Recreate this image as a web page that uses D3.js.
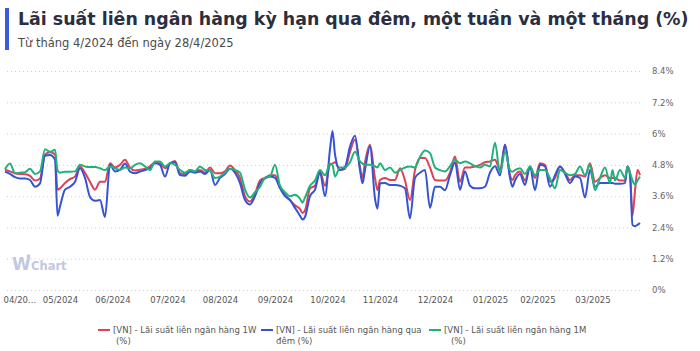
<!DOCTYPE html>
<html>
<head>
<meta charset="utf-8">
<script src="https://cdn.jsdelivr.net/npm/d3@7"></script>
<style>
  html, body { margin: 0; padding: 0; background: #fff; }
  svg { display: block; font-family: 'DejaVu Sans', sans-serif; }
</style>
</head>
<body>
<div id="chart"></div>
<script>
const svgWidth = 700;
const svgHeight = 351;

const title = 'Lãi suất liên ngân hàng kỳ hạn qua đêm, một tuần và một tháng (%)';
const subtitle = 'Từ tháng 4/2024 đến ngày 28/4/2025';

// trading-day index of each sample (0 = early 04/2024, 254 = 28/4/2025)
const days = [
  0, 2, 4, 6, 8, 10, 12, 14, 16, 18, 20, 21, 22, 24, 26, 28, 30, 32, 34, 36, 38, 40,
  42, 44, 46, 48, 50, 52, 54, 56, 58, 60, 62, 64, 66, 68, 70, 72, 74, 76, 78, 80,
  82, 84, 86, 88, 90, 92, 94, 96, 98, 100, 102, 104, 106, 108, 110, 112, 114, 116,
  118, 119, 120, 122, 124, 126, 128, 130, 131, 132, 134, 136, 138, 140, 142, 143,
  144, 146, 148, 149, 150, 152, 154, 156, 158, 160, 162, 164, 166, 168, 170, 172,
  174, 176, 178, 180, 182, 184, 186, 188, 190, 192, 194, 196, 198, 200, 202, 203,
  204, 206, 208, 210, 212, 214, 216, 218, 220, 222, 224, 226, 228, 230, 232, 234,
  236, 238, 240, 242, 243, 244, 246, 248, 249, 250, 251, 252, 253, 254,
];

// 1 week (red)
const rate1W = [
  4.61, 4.55, 4.48, 4.45, 4.44, 4.38, 4.20, 4.28, 5.20, 5.28, 5.20, 3.85, 3.90, 4.10, 4.25, 4.35, 4.74, 4.50, 4.15, 3.85, 4.15, 4.15,
  4.86, 4.70, 4.80, 5.00, 4.70, 4.58, 4.61, 4.65, 4.74, 4.90, 4.86, 4.67, 4.86, 4.95, 4.48, 4.45, 4.60, 4.55, 4.60, 4.50,
  4.70, 4.48, 4.48, 4.55, 4.78, 4.60, 4.30, 3.60, 3.39, 3.70, 4.20, 4.30, 4.40, 4.40, 3.95, 3.65, 3.45, 3.25,
  3.10, 2.95, 3.05, 3.90, 4.00, 4.55, 4.00, 4.80, 4.85, 4.90, 4.60, 4.65, 5.30, 5.77, 4.70, 4.30,
  4.90, 5.57, 4.30, 3.83, 4.22, 4.30, 4.22, 4.22, 4.67, 4.20, 3.45, 4.60, 5.06, 5.06, 4.70, 4.22,
  4.20, 4.20, 4.50, 5.12, 4.15, 4.70, 4.70, 4.74, 4.80, 4.90, 4.93, 5.00, 4.60, 5.57, 4.40, 4.22,
  4.40, 4.55, 4.20, 4.74, 4.30, 4.86, 4.80, 4.15, 4.30, 4.74, 4.50, 4.22, 4.40, 4.40, 4.35, 4.86,
  4.15, 4.30, 4.40, 4.30, 4.30, 4.30, 4.20, 4.20, 4.74, 4.50, 2.85, 3.80, 4.60, 4.40,
];

// overnight (blue)
const rateON = [
  4.54, 4.45, 4.33, 4.28, 4.28, 4.22, 3.96, 4.09, 5.15, 5.18, 5.00, 2.85, 3.20, 3.85, 3.96, 4.15, 4.67, 4.30, 3.57, 3.42, 3.45, 2.80,
  4.80, 4.55, 4.61, 4.85, 4.54, 4.48, 4.54, 4.60, 4.67, 4.86, 4.80, 4.35, 4.86, 4.90, 4.41, 4.38, 4.55, 4.50, 4.55, 4.45,
  4.60, 4.03, 4.30, 4.45, 4.65, 4.50, 4.10, 3.45, 3.28, 3.60, 4.10, 4.28, 4.35, 4.30, 3.90, 3.60, 3.45, 3.15,
  2.85, 2.70, 2.80, 3.60, 3.85, 4.50, 3.60, 5.40, 6.10, 5.20, 4.60, 4.72, 5.50, 5.92, 4.60, 4.09,
  4.60, 5.50, 3.50, 3.12, 4.09, 4.10, 4.03, 4.03, 4.00, 3.90, 2.75, 4.30, 4.50, 4.60, 3.15, 3.96,
  3.96, 3.83, 4.40, 4.90, 3.85, 4.55, 4.00, 3.90, 3.90, 3.96, 4.50, 4.75, 4.40, 5.57, 4.30, 3.96,
  4.20, 4.45, 4.03, 4.74, 3.83, 4.80, 4.74, 3.96, 4.40, 4.74, 4.45, 4.10, 4.35, 4.30, 3.55, 4.60,
  3.96, 4.10, 4.10, 4.10, 4.10, 4.08, 4.08, 4.10, 4.74, 4.40, 2.50, 2.45, 2.50, 2.57,
];

// 1 month (green)
const rate1M = [
  4.63, 4.85, 4.48, 4.50, 4.52, 4.65, 4.45, 4.55, 5.40, 5.30, 5.38, 4.60, 4.50, 4.54, 4.54, 4.55, 4.80, 4.74, 4.72, 4.72, 4.67, 4.60,
  4.74, 4.67, 4.61, 4.70, 4.67, 4.80, 4.86, 4.74, 4.60, 4.93, 4.93, 4.74, 4.86, 4.80, 4.60, 4.50, 4.60, 4.55, 4.74, 4.60,
  4.58, 4.30, 4.35, 4.50, 4.65, 4.60, 4.50, 3.85, 3.55, 3.75, 3.96, 4.30, 4.35, 4.80, 4.00, 3.75, 3.60, 3.65,
  3.50, 3.35, 3.55, 4.00, 4.20, 4.60, 4.40, 4.85, 4.80, 4.35, 4.70, 4.70, 4.90, 5.30, 4.93, 4.85,
  4.80, 4.80, 4.74, 4.70, 4.86, 4.60, 4.70, 4.50, 4.60, 4.70, 4.74, 4.70, 5.10, 5.35, 5.25, 4.70,
  4.60, 4.55, 4.75, 5.00, 4.86, 4.93, 4.86, 4.75, 4.70, 4.80, 4.74, 5.65, 4.50, 5.30, 4.60, 4.54,
  4.60, 4.67, 4.45, 4.74, 4.40, 4.60, 4.60, 4.28, 3.90, 4.60, 4.50, 4.40, 4.45, 4.74, 4.40, 4.80,
  3.83, 4.30, 4.70, 4.10, 4.60, 4.20, 4.60, 4.30, 4.74, 4.50, 4.20, 4.05, 4.20, 4.35,
];

const yTicks = [0, 1.2, 2.4, 3.6, 4.8, 6, 7.2, 8.4];
const yTickLabels = ['0%', '1.2%', '2.4%', '3.6%', '4.8%', '6%', '7.2%', '8.4%'];

const monthDays = [0, 22, 43, 65, 86, 108, 129, 150, 172, 194, 213, 235];
const monthLabels = [
  '04/20...', '05/2024', '06/2024', '07/2024', '08/2024', '09/2024',
  '10/2024', '11/2024', '12/2024', '01/2025', '02/2025', '03/2025',
];

const seriesNames = [
  ['[VN] - Lãi suất liên ngân hàng 1W', '(%)'],
  ['[VN] - Lãi suất liên ngân hàng qua', 'đêm (%)'],
  ['[VN] - Lãi suất liên ngân hàng 1M', '(%)'],
];
const seriesColors = ['#dc4359', '#3553d3', '#21b27c'];
const seriesValues = [rate1W, rateON, rate1M];

const plot = { left: 5, right: 640, top: 71, bottom: 290 };

const svg = d3
  .select('#chart')
  .append('svg')
  .attr('width', svgWidth)
  .attr('height', svgHeight);

// header
svg.append('rect').attr('x', 5).attr('y', 8).attr('width', 4).attr('height', 42).attr('fill', '#3b5bdb');
svg
  .append('text')
  .attr('x', 18)
  .attr('y', 25)
  .style('font-size', '17.4px')
  .style('font-weight', 'bold')
  .attr('fill', '#2b2e3f')
  .text(title);
svg
  .append('text')
  .attr('x', 18)
  .attr('y', 47)
  .style('font-size', '11.5px')
  .attr('fill', '#4a4a4a')
  .text(subtitle);

const x = d3.scaleLinear().domain([0, 254]).range([plot.left, plot.right]);
const y = d3.scaleLinear().domain([0, 8.4]).range([plot.bottom, plot.top]);

// y grid + labels on the right
const yAxis = d3
  .axisRight(y)
  .tickValues(yTicks)
  .tickSize(-(plot.right - plot.left))
  .tickPadding(12)
  .tickFormat((d, i) => yTickLabels[i]);
const yG = svg.append('g').attr('transform', `translate(${plot.right}, 0)`).call(yAxis);
yG.select('.domain').remove();
yG.selectAll('line').attr('stroke', '#cfcfcf').attr('stroke-dasharray', '1,3');
yG.selectAll('text').attr('fill', '#666').style('font-size', '8.5px').style('font-family', 'DejaVu Sans');

// watermark
svg.append('text').attr('x', 12).attr('y', 270).attr('fill', '#c2c8e0')
  .attr('font-weight', 'bold').attr('font-size', 17).text('W');
svg.append('text').attr('x', 31).attr('y', 270).attr('fill', '#c2c8e0')
  .attr('font-weight', 'bold').attr('font-size', 11.5).text('Chart');
svg.append('circle').attr('cx', 28.5).attr('cy', 256).attr('r', 1.8).attr('fill', '#c2c8e0');

// x axis labels
const xAxis = d3
  .axisBottom(x)
  .tickValues(monthDays)
  .tickSize(0)
  .tickPadding(7)
  .tickFormat((d, i) => monthLabels[i]);
const xG = svg.append('g').attr('transform', `translate(0, ${plot.bottom})`).call(xAxis);
xG.select('.domain').remove();
xG.selectAll('text').attr('fill', '#555').style('font-size', '8.5px').style('font-family', 'DejaVu Sans');
xG.selectAll('text').filter((d, i) => i === 0).attr('text-anchor', 'start').attr('x', -2);

// lines
const line = d3
  .line()
  .x((d, i) => x(days[i]))
  .y((d) => y(d))
  .curve(d3.curveMonotoneX);

seriesValues.forEach((vals, k) => {
  svg
    .append('path')
    .datum(vals)
    .attr('fill', 'none')
    .attr('stroke', seriesColors[k])
    .attr('stroke-width', 2)
    .attr('stroke-linejoin', 'round')
    .attr('d', line);
});

// legend
const legendX = [98, 261, 429];
const secondLineDx = [3, 0, 7];
seriesNames.forEach((lines, k) => {
  const g = svg.append('g').attr('transform', `translate(${legendX[k]}, 330)`);
  g.append('line').attr('x1', 0).attr('x2', 12).attr('y1', 0).attr('y2', 0)
    .attr('stroke', seriesColors[k]).attr('stroke-width', 2);
  const t = g.append('text').attr('fill', '#555').style('font-size', '8.5px');
  t.append('tspan').attr('x', 15).attr('y', 3).text(lines[0]);
  t.append('tspan').attr('x', 15 + secondLineDx[k]).attr('y', 14).text(lines[1]);
});
</script>
</body>
</html>
